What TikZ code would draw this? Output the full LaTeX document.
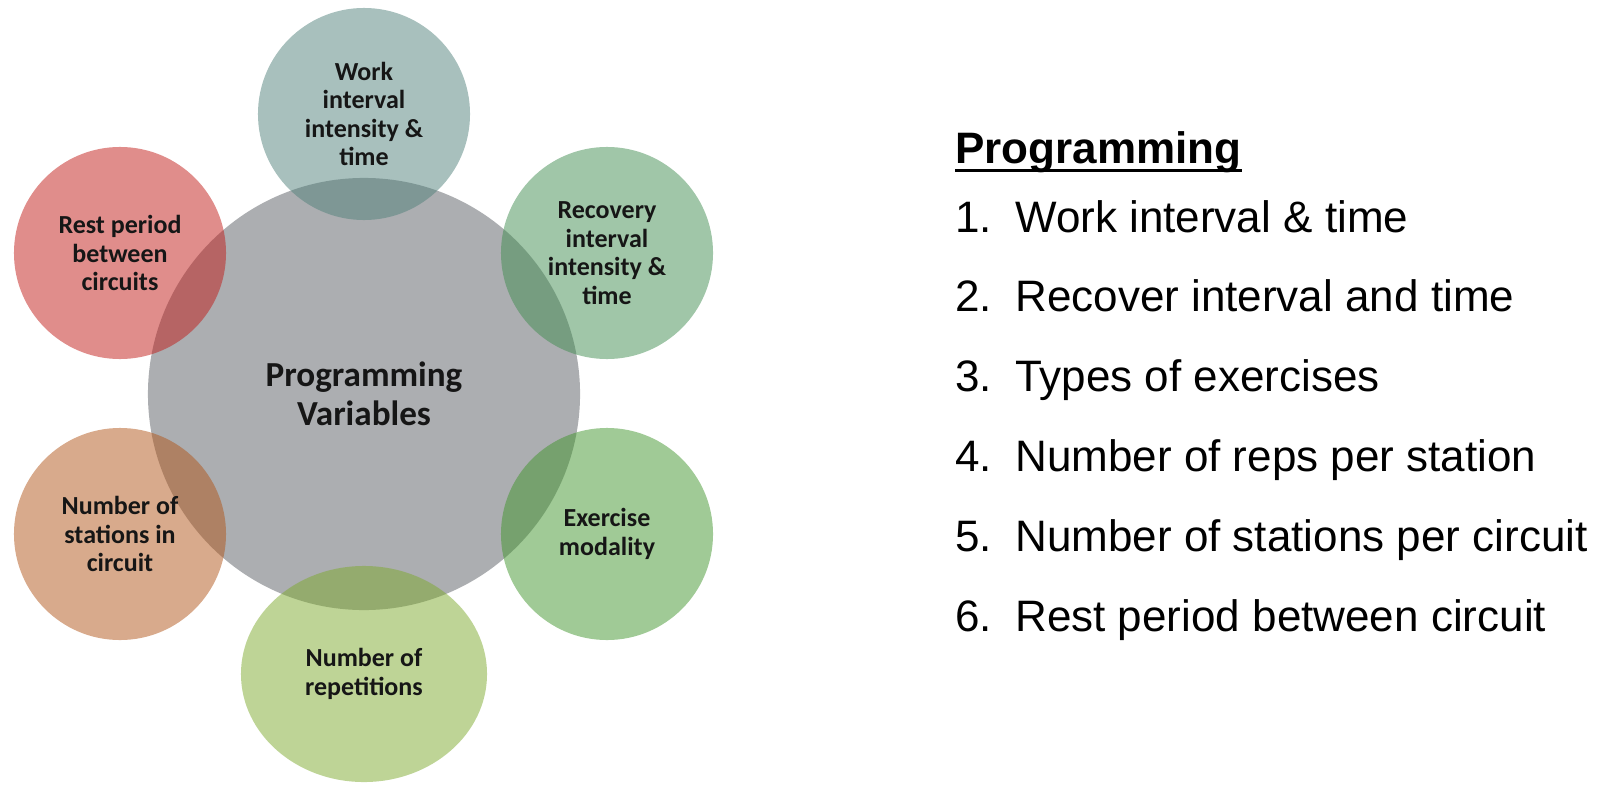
\documentclass[tikz,border=0pt]{standalone}
\usepackage{fontspec}
\setmainfont{Liberation Sans}
\newfontfamily\bubblefont{Carlito}
\usetikzlibrary{shapes.geometric}
\definecolor{hubGray}{RGB}{172,174,177}
\definecolor{workTeal}{RGB}{81,129,123}
\definecolor{restRed}{RGB}{193,28,24}
\definecolor{recovGreen}{RGB}{65,141,81}
\definecolor{modGreen}{RGB}{65,149,45}
\definecolor{repsLime}{RGB}{125,169,45}
\definecolor{stationTan}{RGB}{177,85,25}
\definecolor{inkBlack}{RGB}{22,22,22}

\begin{document}
\begin{tikzpicture}[x=0.025cm,y=-0.025cm,
  bubble/.style={circle,minimum size=5.3cm,inner sep=0pt,fill=#1,fill opacity=0.5,text opacity=1,
    align=center,text=inkBlack,font=\bubblefont\bfseries\fontsize{18.5}{20.3}\selectfont},
  listtxt/.style={anchor=base west,inner sep=0pt,font=\fontsize{31.3}{31.3}\selectfont}]
\useasboundingbox (0,0) rectangle (1602,788);
% hub and the six bubbles round it
\node[circle,minimum size=10.8cm,inner sep=0pt,fill=hubGray] (hub) at (364,394) {};
\node[bubble=workTeal] (work) at (364,114) {Work\\interval\\intensity \&\\time};
\node[bubble=restRed] (rest) at (120,253) {Rest period\\between\\circuits};
\node[bubble=recovGreen] (recov) at (607,253) {Recovery\\interval\\intensity \&\\time};
\node[bubble=stationTan] (stations) at (120,534) {Number of\\stations in\\circuit};
\node[bubble=modGreen] (modality) at (607,534) {Exercise\\modality};
\node[bubble=repsLime,ellipse,minimum width=6.15cm,minimum height=5.4cm] (reps) at (364,674) {Number of\\repetitions};
\node[align=center,text=inkBlack,font=\bubblefont\bfseries\fontsize{25}{27.7}\selectfont] (hubtext) at (hub) {Programming\\Variables};
% list on the right
\node[listtxt,font=\bfseries\fontsize{31.3}{31.3}\selectfont] (title) at (955,164) {Programming};
\draw[line width=0.075cm] ([yshift=-0.15cm]title.base west) -- ([yshift=-0.15cm]title.base east);
\foreach \txt [count=\i] in {Work interval \& time,Recover interval and time,Types of exercises,
    Number of reps per station,Number of stations per circuit,Rest period between circuit}{
  \node[listtxt] (num\i) at (955,{152.2+79.8*\i}) {\i.};
  \node[listtxt] (item\i) at (1015,{152.2+79.8*\i}) {\txt};
}
\end{tikzpicture}
\end{document}
